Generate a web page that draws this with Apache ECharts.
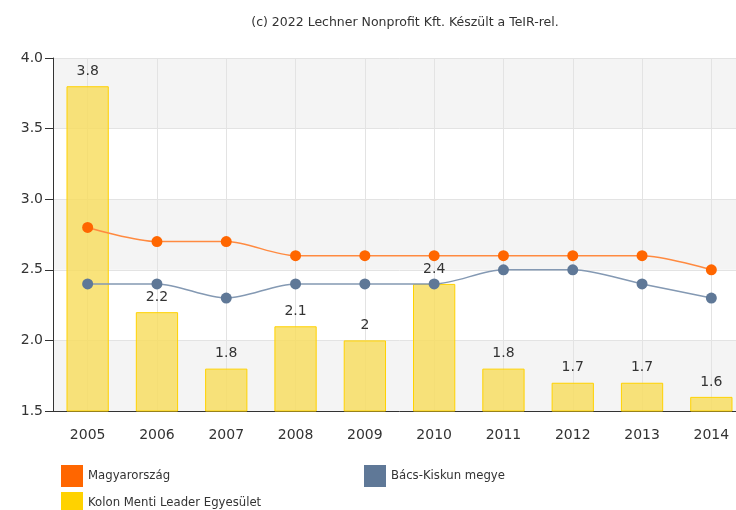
<!DOCTYPE html>
<html><head><meta charset="utf-8">
<script src="https://cdn.jsdelivr.net/npm/echarts@6/dist/echarts.min.js"></script>
<style>html,body{margin:0;padding:0;background:#fff;overflow:hidden;width:736px;height:510px}#c{width:746px;height:510px}</style>
</head><body><div id="c"></div>
<script>
var years = ['2005','2006','2007','2008','2009','2010','2011','2012','2013','2014'];
var magyarorszag = [2.8, 2.7, 2.7, 2.6, 2.6, 2.6, 2.6, 2.6, 2.6, 2.5];
var bacsKiskun = [2.4, 2.4, 2.3, 2.4, 2.4, 2.4, 2.5, 2.5, 2.4, 2.3];
var kolonMenti = [3.8, 2.2, 1.8, 2.1, 2.0, 2.4, 1.8, 1.7, 1.7, 1.6];
var yTicks = {min: 1.5, max: 4.0, interval: 0.5};

var font = 'DejaVu Sans';
var chart = echarts.init(document.getElementById('c'), null, {renderer: 'canvas'});
var legendText = {fontFamily: font, fontSize: 11.7, color: '#333'};
function lg(name, color, left, top) {
  return {data: [{name: name, itemStyle: {color: color, borderWidth: 0}}], left: left, top: top,
    itemWidth: 22, itemHeight: 22, icon: 'rect', textStyle: legendText, padding: 0, itemGap: 0};
}
chart.setOption({
  animation: false,
  title: {
    text: '(c) 2022 Lechner Nonprofit Kft. Készült a TeIR-rel.',
    left: 400, top: 11, textAlign: 'center',
    textStyle: {fontFamily: font, fontSize: 12.5, fontWeight: 'normal', color: '#333'}
  },
  legend: [
    lg('Magyarország', '#ff6600', 61, 465),
    lg('Bács-Kiskun megye', '#5f7897', 364, 465),
    lg('Kolon Menti Leader Egyesület', '#ffd200', 61, 492)
  ],
  grid: {left: 53, right: 0, top: 58, bottom: 99, containLabel: false},
  xAxis: {
    type: 'category', data: years, boundaryGap: true,
    axisLine: {lineStyle: {color: '#333', width: 1}},
    axisTick: {alignWithLabel: true, length: 6, lineStyle: {color: '#333'}},
    axisLabel: {fontFamily: font, fontSize: 14, color: '#333', margin: 17},
    splitLine: {show: true, alignWithLabel: true, lineStyle: {color: '#e3e3e3'}}
  },
  yAxis: {
    type: 'value', min: yTicks.min, max: yTicks.max, interval: yTicks.interval,
    axisLine: {show: true, lineStyle: {color: '#333', width: 1}},
    axisTick: {show: true, length: 8, lineStyle: {color: '#333'}},
    axisLabel: {fontFamily: font, fontSize: 14, color: '#333', margin: 10,
      formatter: function (v) { return v.toFixed(1); }},
    splitLine: {show: true, lineStyle: {color: '#e3e3e3'}},
    splitArea: {show: true, areaStyle: {color: ['#f4f4f4', '#ffffff']}}
  },
  series: [
    {
      name: 'Kolon Menti Leader Egyesület', type: 'bar', data: kolonMenti, barWidth: '61%',
      itemStyle: {color: 'rgba(247,220,90,0.8)', borderColor: '#ffd200', borderWidth: 1},
      label: {show: true, position: 'top', distance: 8, fontFamily: font, fontSize: 14, color: '#333'},
      z: 2
    },
    {
      name: 'Magyarország', type: 'line', data: magyarorszag, smooth: 0.3,
      symbol: 'circle', symbolSize: 11,
      itemStyle: {color: '#ff6600'},
      lineStyle: {color: '#ff8a40', width: 1.5},
      z: 3
    },
    {
      name: 'Bács-Kiskun megye', type: 'line', data: bacsKiskun, smooth: 0.3,
      symbol: 'circle', symbolSize: 11,
      itemStyle: {color: '#5f7897'},
      lineStyle: {color: '#8499b3', width: 1.5},
      z: 3
    }
  ]
});
</script></body></html>
